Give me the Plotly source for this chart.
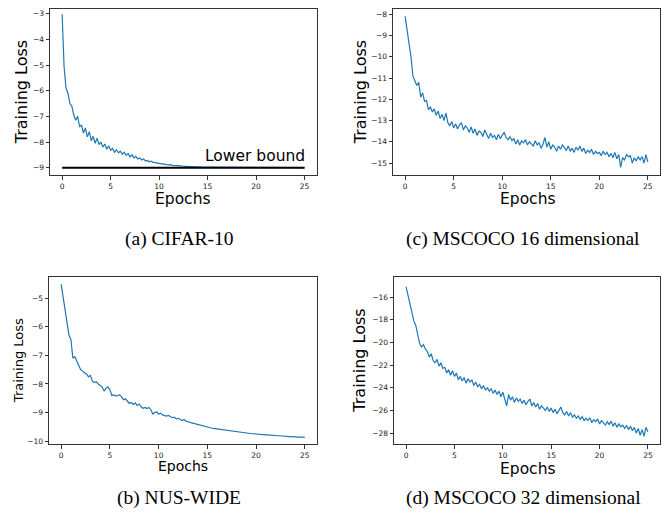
import plotly.graph_objects as go

# epochs sampled every 0.2
epochs = [round(0.2 * i, 1) for i in range(126)]

loss_cifar10 = [
    -3.02, -5.05, -5.90, -6.10, -6.50, -6.60, -6.95, -7.15, -7.00, -7.40,
    -7.35, -7.65, -7.45, -7.80, -7.60, -7.95, -7.78, -8.05, -7.85, -8.10,
    -8.00, -8.20, -8.08, -8.28, -8.15, -8.32, -8.25, -8.40, -8.30, -8.42,
    -8.36, -8.48, -8.40, -8.52, -8.45, -8.58, -8.50, -8.62, -8.56, -8.66,
    -8.62, -8.70, -8.66, -8.74, -8.72, -8.77, -8.75, -8.80, -8.79, -8.83,
    -8.83, -8.85, -8.84, -8.87, -8.88, -8.89, -8.88, -8.91, -8.91, -8.92,
    -8.93, -8.93, -8.94, -8.95, -8.95, -8.96, -8.96, -8.96, -8.97, -8.97,
    -8.97, -8.97, -8.98, -8.98, -8.98, -8.98, -8.98, -8.99, -8.98, -8.99,
    -8.99, -8.99, -8.99, -8.99, -8.99, -8.99, -9.00, -8.99, -9.00, -9.00,
    -9.00, -9.00, -9.00, -9.00, -9.00, -9.00, -9.00, -9.00, -9.00, -9.00,
    -9.00, -9.00, -9.00, -9.00, -9.00, -9.00, -9.00, -9.00, -9.00, -9.00,
    -9.00, -9.00, -9.00, -9.00, -9.00, -9.00, -9.00, -9.00, -9.00, -9.00,
    -9.00, -9.00, -9.00, -9.00, -9.00, -9.00,
]

loss_nuswide = [
    -4.52, -4.95, -5.40, -5.95, -6.30, -6.45, -7.10, -7.05, -7.20, -7.40,
    -7.50, -7.55, -7.62, -7.65, -7.75, -7.70, -7.90, -7.95, -7.92, -8.00,
    -8.05, -8.10, -8.25, -8.15, -8.10, -8.20, -8.40, -8.38, -8.42, -8.40,
    -8.38, -8.45, -8.55, -8.52, -8.60, -8.68, -8.65, -8.72, -8.66, -8.75,
    -8.70, -8.80, -8.85, -8.82, -8.86, -8.82, -8.90, -9.05, -9.00, -8.98,
    -9.05, -9.02, -9.08, -9.10, -9.12, -9.10, -9.15, -9.18, -9.16, -9.22,
    -9.20, -9.25, -9.28, -9.24, -9.30, -9.32, -9.35, -9.36, -9.38, -9.40,
    -9.42, -9.44, -9.46, -9.47, -9.48, -9.50, -9.52, -9.54, -9.55, -9.56,
    -9.58, -9.58, -9.60, -9.61, -9.62, -9.63, -9.64, -9.65, -9.66, -9.65,
    -9.68, -9.69, -9.70, -9.70, -9.71, -9.72, -9.72, -9.73, -9.74, -9.74,
    -9.75, -9.75, -9.76, -9.77, -9.77, -9.78, -9.78, -9.79, -9.79, -9.80,
    -9.80, -9.81, -9.81, -9.82, -9.82, -9.83, -9.83, -9.84, -9.84, -9.85,
    -9.85, -9.85, -9.86, -9.86, -9.86, -9.87,
]

loss_mscoco16 = [
    -8.10, -8.70, -9.40, -10.00, -10.90, -11.10, -11.35, -11.20, -11.90, -11.70,
    -12.10, -12.05, -12.50, -12.35, -12.60, -12.45, -12.75, -12.55, -12.90, -12.70,
    -13.00, -12.65, -13.10, -13.25, -13.05, -13.35, -13.15, -13.40, -13.20, -13.10,
    -13.45, -13.25, -13.35, -13.55, -13.30, -13.60, -13.40, -13.70, -13.50, -13.55,
    -13.75, -13.45, -13.65, -13.85, -13.60, -13.80, -13.70, -13.90, -13.65, -13.85,
    -13.70, -13.55, -13.80, -13.90, -13.75, -13.95, -13.85, -14.10, -13.90, -14.15,
    -13.95, -14.05, -13.90, -14.15, -14.00, -14.10, -14.20, -13.95, -14.15, -14.05,
    -14.30, -14.10, -13.80, -14.25, -14.00, -14.35, -14.15, -14.25, -14.45, -14.20,
    -14.35, -14.15, -14.30, -14.40, -14.20, -14.45, -14.30, -14.50, -14.25, -14.40,
    -14.20, -14.45, -14.30, -14.55, -14.40, -14.50, -14.35, -14.60, -14.45, -14.55,
    -14.50, -14.65, -14.45, -14.60, -14.50, -14.70, -14.55, -14.75, -14.50, -14.80,
    -14.60, -15.20, -14.75, -14.85, -14.60, -14.70, -14.65, -15.00, -14.75, -14.90,
    -14.70, -14.85, -14.70, -15.00, -14.60, -14.95,
]

loss_mscoco32 = [
    -15.10, -15.90, -16.80, -17.40, -18.10, -18.50, -19.30, -20.10, -20.40, -20.20,
    -20.60, -20.80, -21.30, -21.00, -21.60, -21.80, -21.50, -22.10, -21.80, -22.30,
    -22.20, -22.70, -22.40, -22.90, -22.50, -23.00, -22.70, -23.30, -23.00, -23.40,
    -23.10, -23.60, -23.20, -23.50, -23.30, -23.80, -23.50, -23.90, -23.70, -24.10,
    -23.80, -24.20, -24.00, -24.30, -24.10, -24.50, -24.20, -24.60, -24.30, -24.80,
    -24.40, -24.90, -25.60, -24.60, -25.10, -24.80, -25.30, -24.90, -25.20, -25.00,
    -25.40, -25.10, -25.50, -25.20, -25.00, -25.60, -25.30, -25.70, -25.40, -25.90,
    -25.60, -25.80, -26.00, -25.70, -26.10, -25.80, -26.20, -25.90, -26.30, -26.00,
    -25.70, -26.20, -26.40, -26.10, -26.50, -26.20, -26.60, -26.40, -26.70, -26.50,
    -26.80, -26.55, -26.90, -26.70, -26.90, -26.65, -27.10, -26.80, -27.00, -26.75,
    -27.20, -26.90, -27.10, -27.30, -27.00, -27.25, -26.95, -27.40, -27.10, -27.50,
    -27.20, -27.45, -27.30, -27.60, -27.35, -27.70, -27.40, -27.80, -27.50, -28.00,
    -27.60, -28.20, -27.70, -28.30, -27.50, -27.90,
]

lower_bound = -9

W, H = 670, 523
OFF = 8  # the page body adds an 8px margin round the figure
SANS = "DejaVu Sans"
SERIF = "Liberation Serif"
BLUE = "#1f77b4"

# (key, data, screen box l,t,r,b, y range, y ticks, caption, caption pos, title sizes, title pos)
panels = [
    ("", loss_cifar10, (50, 8, 316.7, 175), [-9.3, -2.817], list(range(-9, -2)),
     "(a) CIFAR-10", (179, 239), 16, 15.5, (21, 183, 199)),
    ("2", loss_mscoco16, (393, 8, 660, 175), [-15.58, -7.75], list(range(-15, -7)),
     "(c) MSCOCO 16 dimensional", (523, 239), 16, 15.5, (360, 528, 199)),
    ("3", loss_nuswide, (49, 277, 317, 445), [-10.11, -4.26], list(range(-10, -4)),
     "(b) NUS-WIDE", (179, 499), 13, 14, (18.5, 183, 467)),
    ("4", loss_mscoco32, (394, 277, 660, 445), [-29.0, -14.22], list(range(-28, -15, 2)),
     "(d) MSCOCO 32 dimensional", (523, 499), 16, 15.5, (360, 528, 470)),
]


def px(x):
    return (x - OFF) / W


def py(y):
    return 1 - (y - OFF) / H


fig = go.Figure()
layout = {}
annotations = []


def paper_note(text, x, y, size, family=SANS, angle=0):
    return dict(text=text, x=px(x), y=py(y), xref="paper", yref="paper",
                xanchor="center", yanchor="middle", showarrow=False, textangle=angle,
                font=dict(family=family, size=size, color="black"))


for key, ys, box, yr, yt, cap, cpos, ysize, xsize, tpos in panels:
    l, t, r, b = box
    xa, ya = "x" + key, "y" + key
    fig.add_trace(go.Scatter(x=epochs, y=ys, mode="lines", xaxis=xa, yaxis=ya,
                             line=dict(color=BLUE, width=1.2), showlegend=False))
    axis_style = dict(showline=True, mirror=True, linecolor="#333", linewidth=1,
                      ticks="outside", ticklen=3.5, tickwidth=0.8, tickcolor="#333",
                      showgrid=False, zeroline=False,
                      tickfont=dict(family=SANS, size=7.5, color="#222"))
    layout["xaxis" + key] = dict(domain=[px(l), px(r)], range=[-1.25, 26.25],
                                 tickvals=[0, 5, 10, 15, 20, 25], anchor=ya, **axis_style)
    layout["yaxis" + key] = dict(domain=[py(b), min(1, py(t))], range=yr,
                                 tickvals=yt, anchor=xa, **axis_style)
    ytx, xtx, xty = tpos
    annotations.append(paper_note("Training Loss", ytx, (t + b) / 2, ysize, angle=-90))
    annotations.append(paper_note("Epochs", xtx, xty, xsize))
    annotations.append(paper_note(cap, cpos[0], cpos[1], 19.5, family=SERIF))

# lower bound for CIFAR-10
fig.add_trace(go.Scatter(x=[0, 25], y=[lower_bound, lower_bound], mode="lines",
                         xaxis="x", yaxis="y", line=dict(color="black", width=2),
                         showlegend=False))
annotations.append(dict(text="Lower bound", x=25, y=lower_bound, xref="x", yref="y",
                        xanchor="right", yanchor="bottom", showarrow=False, yshift=1,
                        xshift=2, font=dict(family=SANS, size=15.5, color="black")))

fig.update_layout(width=W, height=H, margin=dict(l=0, r=0, t=0, b=0),
                  plot_bgcolor="white", paper_bgcolor="white",
                  annotations=annotations, **layout)

fig.write_html("out.html")
